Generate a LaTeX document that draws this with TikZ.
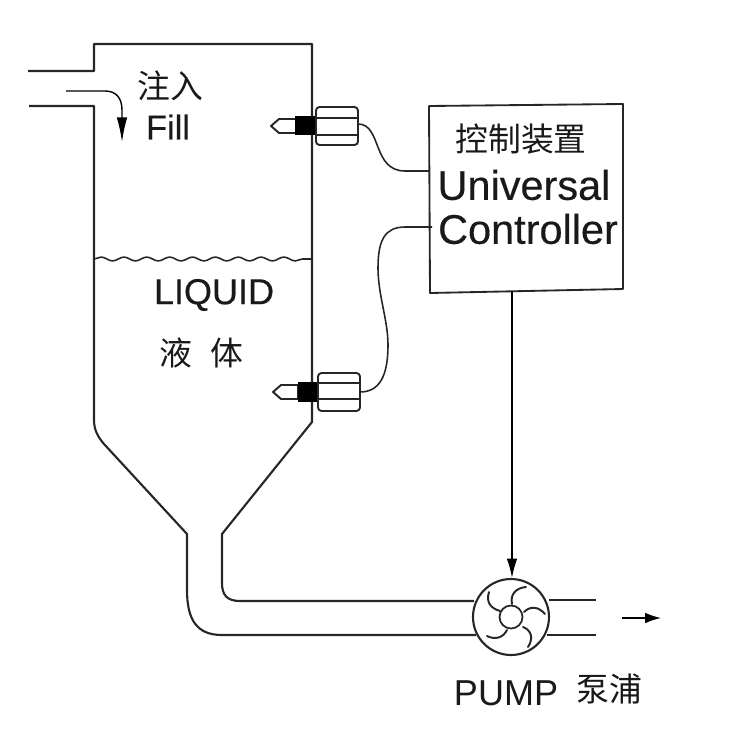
\documentclass[tikz,border=0pt]{standalone}
\usepackage{fontspec}
\setmainfont{Liberation Sans}
\newfontfamily\cjk{Noto Sans CJK SC}
\newfontfamily\heavy[FakeBold=0.35]{Liberation Sans}
\usetikzlibrary{arrows.meta,decorations.pathmorphing}
\tikzset{
  wall/.style={draw=black!85,line width=1.2pt,line join=round},
  thin wire/.style={draw=black!85,line width=0.9pt},
  sensor/.style={draw=black!85,line width=1.1pt,line join=round},
  flow/.style={draw=black,line width=0.8pt,-{Latex[length=14pt,width=6pt]}},
  en/.style={inner sep=0pt,font=\heavy\fontsize{23.6}{23.6}\selectfont,text=black!90},
  zh/.style={inner sep=0pt,font=\cjk\fontsize{18.7}{18.7}\selectfont,text=black!90}
}
\begin{document}
\begin{tikzpicture}[x=0.02cm,y=-0.02cm]
\useasboundingbox (0,0) rectangle (750,750);

% Vessel, inlet and outlet pipework
\draw[wall] (28,71) -- (94,71) -- (94,44) -- (312,44) -- (312,422) -- (222,534) -- (222,583)
  .. controls (222,595) and (227,601) .. (240,601) -- (474,601);
\draw[wall] (29,106) -- (94,106) -- (94,420)
  .. controls (94,430) and (98,437) .. (104,444) -- (187,534) -- (187,590)
  .. controls (187,620) and (197,635) .. (222,635) -- (476,635);

% Liquid surface
\draw[thin wire,decoration={snake,amplitude=1.1pt,segment length=13pt},decorate]
  (94,259) -- (312,259);

% Controller box
\coordinate (ctlA) at (429,106);
\coordinate (ctlB) at (623,104);
\coordinate (ctlC) at (623,289);
\coordinate (ctlD) at (430,293);
\draw[wall,line width=1.05pt] (ctlA) -- (ctlB) -- (ctlC) -- (ctlD) -- cycle;
\node[zh] (ctlzh) at (521,139) {控制装置};
\node[en] (ctlen1) at (524,185) {Universal};
\node[en] (ctlen2) at (528,229) {Controller};

% Upper level sensor
\filldraw[sensor,fill=white] (296,119) -- (279,119) -- (271,126) -- (279,133) -- (296,133) -- cycle;
\fill[black] (295,116) rectangle (316,135);
\filldraw[sensor,fill=white,rounded corners=2pt] (316,107) rectangle (358,145);
\draw[sensor] (316,118) -- (358,118) (316,135) -- (358,135);
\coordinate (sensorU) at (358,124);

% Lower level sensor
\filldraw[sensor,fill=white] (298,385) -- (281,385) -- (273,392) -- (281,399) -- (298,399) -- cycle;
\fill[black] (298,382) rectangle (318,402);
\filldraw[sensor,fill=white,rounded corners=2pt] (318,373) rectangle (360,411);
\draw[sensor] (318,383) -- (360,383) (318,399) -- (360,399);
\coordinate (sensorL) at (360,392);

% Sensor leads into the controller
\coordinate (inU) at (429,171);
\coordinate (inL) at (432,227);
\draw[thin wire] (sensorU) .. controls (382,124) and (372,171) .. (405,171) -- (inU);
\draw[thin wire] (sensorL) .. controls (380,392) and (388,375) .. (388,345)
  .. controls (388,320) and (378,295) .. (378,268)
  .. controls (378,240) and (385,227) .. (405,227) -- (inL);

% Pump
\node[circle,draw=black!85,line width=1.2pt,inner sep=0pt,minimum size=1.52cm] (pump) at (511,617) {};
\node[circle,draw=black!85,line width=1pt,inner sep=0pt,minimum size=0.46cm] (hub) at (511,617) {};
\draw[sensor,line cap=round]
  (512,604) .. controls (510,594) and (516,588) .. (526,587)
  (524,612) .. controls (530,606) and (538,606) .. (545,614)
  (523,627) .. controls (531,630) and (534,638) .. (528,647)
  (507,630) .. controls (503,638) and (495,640) .. (487,636)
  (500,611) .. controls (490,608) and (486,602) .. (489,592);
\draw[wall,line width=1.2pt] (549,600) -- (596,600);
\draw[wall,line width=1.2pt] (547,635) -- (596,635);

% Control signal and flow arrows
\coordinate (ctlOut) at (512,291);
\draw[flow,-{Latex[length=11pt,width=6pt]}] (ctlOut) -- (pump.north -| ctlOut);
\coordinate (fillS) at (66,91);
\coordinate (fillE) at (122,142);
\draw[flow] (fillS) -- (105,91) .. controls (116,91) and (122,98) .. (122,110) -- (fillE);
\coordinate (outS) at (622,618);
\coordinate (outE) at (661,618);
\draw[flow,-{Latex[length=9pt,width=6pt]}] (outS) -- (outE);

% Labels
\node[zh] (fillzh) at (170,86) {注入};
\node[en,font=\heavy\fontsize{19.6}{19.6}\selectfont] (filllbl) at (168,127) {Fill};
\node[en,font=\heavy\fontsize{20.5}{20.5}\selectfont] (liquid) at (214,295) {LIQUID};
\node[zh] (liquidzh) at (201,353) {液\hspace{0.55em}体};
\node[en,font=\fontsize{20.5}{20.5}\selectfont] (pumplbl) at (506,693) {PUMP};
\node[zh] (pumpzh) at (609,689) {泵浦};
\end{tikzpicture}
\end{document}
